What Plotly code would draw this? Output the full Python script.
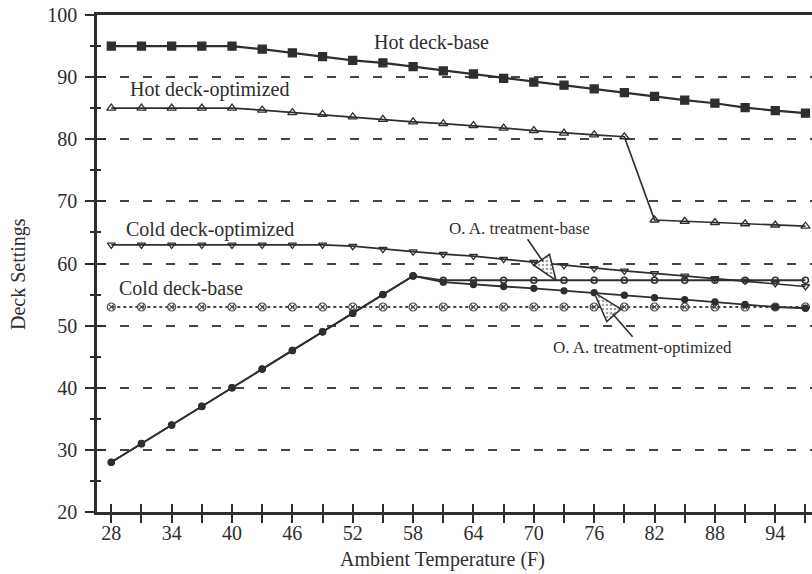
import numpy as np
import plotly.graph_objects as go

# Ambient temperature (F), sampled every 3 degrees
temps = list(range(28, 98, 3))

hot_deck_base = [95, 95, 95, 95, 95, 94.5, 93.9, 93.3, 92.7, 92.3, 91.7, 91.0,
                 90.5, 89.8, 89.2, 88.7, 88.1, 87.5, 86.9, 86.3, 85.8, 85.1, 84.6, 84.2]
hot_deck_opt = [85, 85, 85, 85, 85, 84.7, 84.3, 84.0, 83.6, 83.2, 82.8, 82.5,
                82.2, 81.8, 81.4, 81.0, 80.7, 80.4, 67.0, 66.8, 66.6, 66.4, 66.2, 66.0]
cold_deck_opt = [63, 63, 63, 63, 63, 63, 63, 63, 62.8, 62.3, 61.9, 61.5,
                 61.2, 60.7, 60.2, 59.7, 59.2, 58.8, 58.4, 58.0, 57.6, 57.2, 56.8, 56.3]
cold_deck_base = [53] * 24
oa_base = [28, 31, 34, 37, 40, 43, 46, 49, 52, 55, 58, 57.3,
           57.3, 57.3, 57.3, 57.3, 57.3, 57.3, 57.3, 57.3, 57.3, 57.3, 57.3, 57.3]
oa_opt = [28, 31, 34, 37, 40, 43, 46, 49, 52, 55, 58, 57.0,
          56.6, 56.3, 56.0, 55.6, 55.3, 54.9, 54.5, 54.2, 53.8, 53.4, 53.0, 52.8]

x_tick_labels = [str(t) if (t - 28) % 6 == 0 else "" for t in temps]

# Layout geometry
W, H = 812, 574
M = dict(l=97, r=0, t=15, b=62)
X_RANGE = [26.58, 97.65]
Y_RANGE = [20, 100]
plot_w = W - M["l"] - M["r"]
plot_h = H - M["t"] - M["b"]
ppx = plot_w / (X_RANGE[1] - X_RANGE[0])
ppy = plot_h / (Y_RANGE[1] - Y_RANGE[0])

INK = "#2e2e2e"
FONT = "Liberation Serif"

fig = go.Figure()

def series(y, symbol, size, width=1.8, dash="solid", color=INK, mcolor=None, mline=1.3):
    fig.add_trace(go.Scatter(
        x=temps, y=y, mode="lines+markers",
        line=dict(color=color, width=width, dash=dash),
        marker=dict(symbol=symbol, size=size, color=mcolor or color,
                    line=dict(color=color, width=mline)),
        showlegend=False, hoverinfo="skip"))

series(cold_deck_base, "circle-x-open", 8, width=2, dash="dot", color="#4a4a4a", mline=1.2)
series(oa_base, "circle-open", 6, mline=1.6)
series(oa_opt, "circle", 6)
series(cold_deck_opt, "triangle-down-open", 7, width=1.7)
series(hot_deck_opt, "triangle-up-open", 8, width=1.7)
series(hot_deck_base, "square", 8, width=2.2)

# Series labels
labels = [
    ("Hot deck-base", 59.8, 95.65),
    ("Hot deck-optimized", 37.74, 87.93),
    ("Cold deck-optimized", 37.84, 65.55),
    ("Cold deck-base", 34.96, 56.05),
]
for txt, lx, ly in labels:
    fig.add_annotation(x=lx, y=ly, text=txt, showarrow=False,
                       font=dict(family=FONT, size=20, color=INK))

# Callout arrows with stippled heads, pointing at the O. A. treatment curves
callouts = [
    ("O. A. treatment-base", oa_base, 72.2, -36, -52, 25, 19),
    ("O. A. treatment-optimized", oa_opt, 76.0, 48, 55, 30, 19),
]
for txt, ys, tx, ax, ay, head_len, head_w in callouts:
    ty = float(np.interp(tx, temps, ys))
    fig.add_annotation(x=tx, y=ty, text=txt, showarrow=True, ax=ax, ay=ay,
                       arrowhead=0, arrowwidth=1.6, arrowcolor=INK,
                       standoff=head_len - 2,
                       font=dict(family=FONT, size=17, color=INK))
    # arrowhead triangle built in pixel space, converted to data units
    ux, uy = -ax, -ay
    n = np.hypot(ux, uy)
    ux, uy = ux / n, uy / n
    bx, by = -ux * head_len, -uy * head_len
    nx, ny = -uy * head_w / 2, ux * head_w / 2
    pts = [(0, 0), (bx + nx, by + ny), (bx - nx, by - ny), (0, 0)]
    fig.add_trace(go.Scatter(
        x=[tx + px / ppx for px, py in pts],
        y=[ty - py / ppy for px, py in pts],
        mode="lines", fill="toself",
        fillpattern=dict(shape=".", fgcolor="#444444", bgcolor="#ffffff",
                         size=4, solidity=0.35),
        line=dict(color=INK, width=1.5),
        showlegend=False, hoverinfo="skip"))

# Invisible trace to carry the overlay axes (inner halves of crossing ticks)
fig.add_trace(go.Scatter(x=[temps[0]], y=[Y_RANGE[0]], xaxis="x2", yaxis="y2",
                         mode="markers", marker=dict(opacity=0),
                         showlegend=False, hoverinfo="skip"))

tick_font = dict(family=FONT, size=20, color=INK)
fig.update_layout(
    width=W, height=H, margin=M,
    paper_bgcolor="white", plot_bgcolor="white",
    font=dict(family=FONT, color=INK),
    xaxis=dict(range=X_RANGE, tickmode="array", tickvals=temps, ticktext=x_tick_labels,
               ticks="outside", ticklen=8, tickwidth=2, tickcolor=INK,
               showline=True, linewidth=2.5, linecolor=INK, mirror=True,
               showgrid=False, zeroline=False, tickfont=tick_font,
               ticklabelstandoff=-7),
    yaxis=dict(range=Y_RANGE, tickmode="linear", tick0=20, dtick=10,
               ticks="outside", ticklen=9, tickwidth=2, tickcolor=INK,
               minor=dict(dtick=5, tick0=20, ticks="outside", ticklen=4,
                          tickwidth=2, tickcolor=INK, showgrid=False),
               showline=True, linewidth=2.5, linecolor=INK,
               showgrid=True, gridcolor="#454545", gridwidth=2, griddash="9px,14px",
               zeroline=False, tickfont=tick_font, ticklabelstandoff=4),
    xaxis2=dict(range=X_RANGE, overlaying="x", anchor="y2", side="bottom",
                tickmode="array", tickvals=temps, ticks="inside", ticklen=8,
                tickwidth=2, tickcolor=INK, showticklabels=False,
                showline=False, showgrid=False, zeroline=False),
    yaxis2=dict(range=Y_RANGE, overlaying="y", anchor="x2", side="left",
                tickmode="linear", tick0=20, dtick=10, ticks="inside", ticklen=9,
                tickwidth=2, tickcolor=INK,
                minor=dict(dtick=5, tick0=20, ticks="inside", ticklen=4,
                           tickwidth=2, tickcolor=INK, showgrid=False),
                showticklabels=False, showline=False, showgrid=False, zeroline=False),
)

# Axis titles
fig.add_annotation(xref="paper", yref="paper", x=(18 - M["l"]) / plot_w,
                   y=(H - M["b"] - 274) / plot_h, text="Deck Settings",
                   xanchor="center", yanchor="middle",
                   textangle=-90, showarrow=False,
                   font=dict(family=FONT, size=20, color=INK))
fig.add_annotation(xref="paper", yref="paper", x=(442 - M["l"]) / plot_w,
                   y=-(559 - (H - M["b"])) / plot_h, text="Ambient Temperature (F)",
                   xanchor="center", yanchor="middle",
                   showarrow=False, font=dict(family=FONT, size=20, color=INK))

fig.write_html("out.html")
